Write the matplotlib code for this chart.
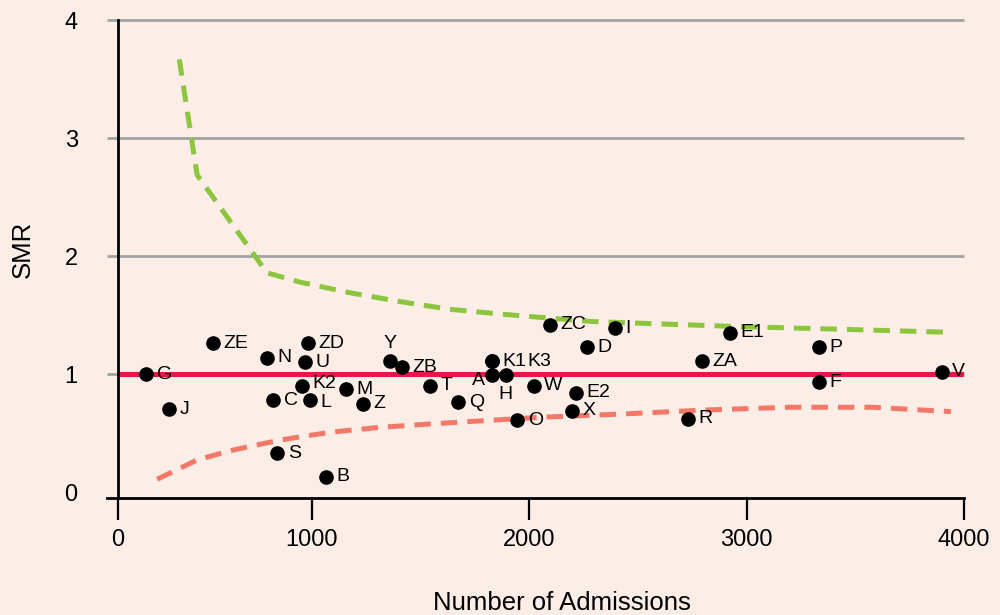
import matplotlib.pyplot as plt

plt.rcParams['font.family'] = ['Liberation Sans', 'DejaVu Sans']

# hospitals: admissions vs standardised mortality ratio
names = ['G', 'J', 'ZE', 'N', 'ZD', 'U', 'K2', 'C', 'L', 'M', 'Z', 'Y', 'ZB', 'T',
         'S', 'B', 'Q', 'A', 'K1', 'K3', 'H', 'W', 'O', 'ZC', 'D', 'I', 'E2', 'X',
         'ZA', 'R', 'E1', 'P', 'F', 'V']
admissions = [239, 343, 543, 793, 983, 969, 955, 822, 989, 1159, 1233, 1361, 1413, 1543,
              841, 1064, 1674, 1828, 1827, 1827, 1891, 2021, 1945, 2096, 2266, 2393, 2213, 2196,
              2793, 2732, 2925, 3335, 3335, 3898]
smr = [1.00, 0.70, 1.26, 1.14, 1.26, 1.10, 0.90, 0.78, 0.78, 0.87, 0.75, 1.11, 1.06, 0.90,
       0.33, 0.13, 0.76, 0.99, 1.11, 1.11, 0.99, 0.90, 0.61, 1.42, 1.23, 1.39, 0.84, 0.69,
       1.11, 0.62, 1.35, 1.23, 0.93, 1.02]

# control limits
upper_x = [390, 472, 793, 946, 1176, 1406, 1635, 1865, 2095, 2292, 2508, 2967, 3427, 3909]
upper_y = [3.67, 2.69, 1.86, 1.78, 1.69, 1.615, 1.55, 1.51, 1.475, 1.446, 1.432, 1.403, 1.381, 1.356]
lower_x = [288, 472, 625, 854, 1084, 1314, 1543, 1773, 2049, 2431, 2815, 3197, 3580, 3940]
lower_y = [0.108, 0.272, 0.351, 0.441, 0.507, 0.549, 0.577, 0.603, 0.634, 0.662, 0.696, 0.719, 0.719, 0.682]

# label placement tweaks (points offset, horizontal alignment)
special = {'A': ((-5, -3.5), 'right'), 'H': ((0, -13.5), 'center'),
           'Y': ((0, 13), 'center'), 'K3': ((25.5, 0), 'left'),
           'K2': ((7.5, 2), 'left'), 'L': ((7.5, -1.5), 'left')}

bg = '#fdede7'
fig = plt.figure(figsize=(10, 6.15), dpi=100, facecolor=bg)
ax = fig.add_axes([0.118, 0.1902, 0.846, 0.7765], facecolor=bg)

ax.set_xlim(108, 4000)
ax.set_ylim(-0.051, 4)

# gridlines that run a little past the left axis
ax.hlines([1, 2, 3, 4], -0.0125, 1, transform=ax.get_yaxis_transform(),
          colors='#a3a3a3', lw=2, clip_on=False, zorder=0.5)
ax.plot([-0.0125, 0], [0, 0], transform=ax.transAxes, color='black', lw=2, clip_on=False)

ax.axhline(1, color='#e8174b', lw=3.6, zorder=2)
ax.plot(upper_x, upper_y, color='#8cc63e', lw=3.6, dashes=(3.3, 2), zorder=2)
ax.plot(lower_x, lower_y, color='#f47868', lw=3.6, dashes=(3.3, 2), zorder=2)

ax.plot(admissions, smr, 'o', color='black', ms=9.5, zorder=3)
for n, x, y in zip(names, admissions, smr):
    off, ha = special.get(n, ((7.5, 0), 'left'))
    ax.annotate(n, (x, y), xytext=off, textcoords='offset points', ha=ha, va='center',
                fontsize=14, zorder=4)

for s in ['top', 'right']:
    ax.spines[s].set_visible(False)
for s in ['left', 'bottom']:
    ax.spines[s].set_linewidth(2)

ax.set_xticks([108, 1000, 2000, 3000, 4000])
ax.set_xticklabels(['0', '1000', '2000', '3000', '4000'])
ax.tick_params(axis='x', length=16, width=1.6, pad=6, labelsize=17)
ax.set_yticks([0, 1, 2, 3, 4])
ax.tick_params(axis='y', length=0, pad=29, labelsize=17)

ax.set_xlabel('Number of Admissions', fontsize=18.5)
ax.xaxis.set_label_coords(0.525, -0.22)
ax.xaxis.label.set_va('center')
ax.set_ylabel('SMR', fontsize=18.5)
ax.yaxis.set_label_coords(-0.112, 0.521)
ax.yaxis.label.set_va('center')

fig.savefig('out.png', dpi=100, facecolor=bg)
